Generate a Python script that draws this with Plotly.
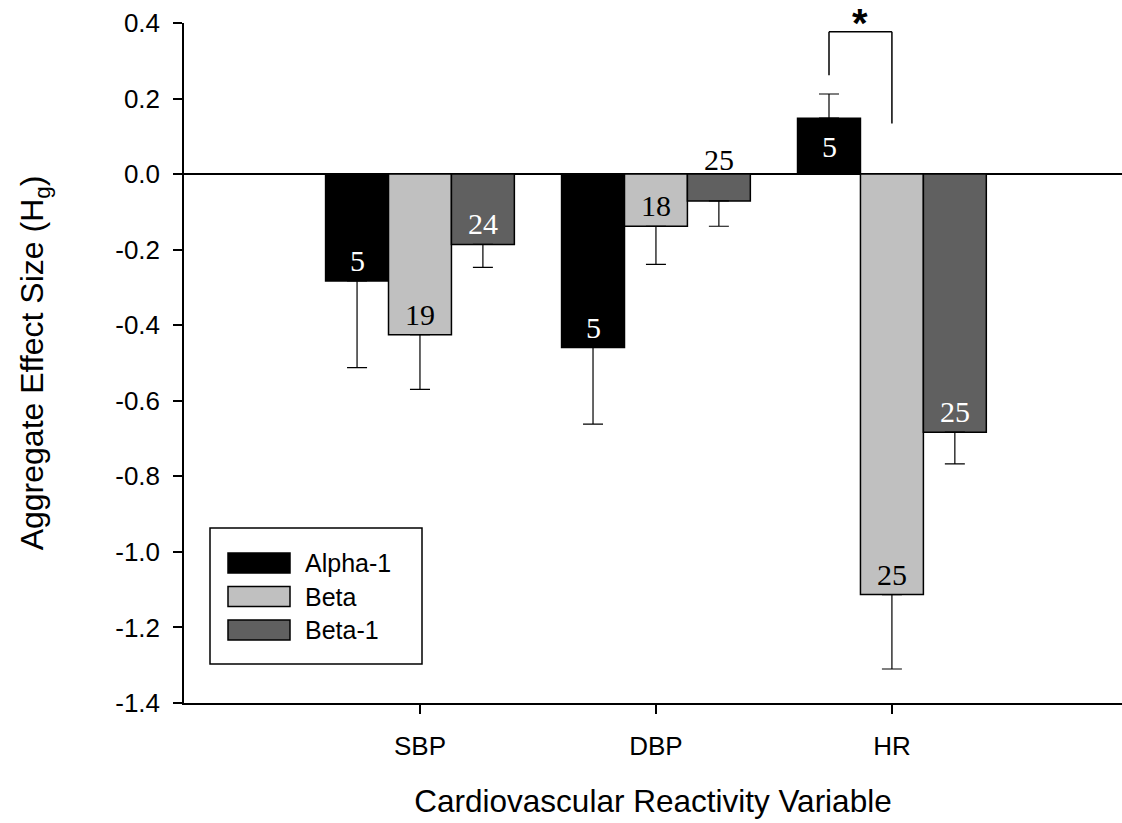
import plotly.graph_objects as go

# ---------------- data ----------------
categories = ["SBP", "DBP", "HR"]
series_names = ["Alpha-1", "Beta", "Beta-1"]
alpha1_vals = [-0.283, -0.459, 0.148]
beta_vals = [-0.425, -0.138, -1.113]
beta1_vals = [-0.186, -0.071, -0.683]
alpha1_err = [0.229, 0.203, 0.064]
beta_err = [0.145, 0.101, 0.197]
beta1_err = [0.061, 0.067, 0.084]
alpha1_n = [5, 5, 5]
beta_n = [19, 18, 25]
beta1_n = [24, 25, 25]
y_tickvals = [0.4, 0.2, 0.0, -0.2, -0.4, -0.6, -0.8, -1.0, -1.2, -1.4]
y_ticktext = ["0.4", "0.2", "0.0", "-0.2", "-0.4", "-0.6", "-0.8", "-1.0", "-1.2", "-1.4"]
x_title = "Cardiovascular Reactivity Variable"
y_title = "Aggregate Effect Size (H<sub>g</sub>)"
sig_label = "*"

# ---------------- style ----------------
fills = ["#000000", "#c0c0c0", "#606060"]
label_colors = ["white", "black", "white"]
SANS = "Arial, Liberation Sans, sans-serif"
SERIF = "Times New Roman, Liberation Serif, serif"

W, H = 1122, 823
# plot area in page pixels
PL, PR, PT, PB = 184, 1122, 23, 703
BARGAP = 0.2
bar_w = (1 - BARGAP) / 3


def px(x):
    return (x - PL) / (PR - PL)


def py(y):
    return (PB - y) / (PB - PT)


vals = [alpha1_vals, beta_vals, beta1_vals]
errs = [alpha1_err, beta_err, beta1_err]
ns = [alpha1_n, beta_n, beta1_n]

fig = go.Figure()
for i in range(3):
    plus = [e if v >= 0 else 0 for v, e in zip(vals[i], errs[i])]
    minus = [0 if v >= 0 else e for v, e in zip(vals[i], errs[i])]
    fig.add_trace(go.Bar(
        x=categories, y=vals[i], name=series_names[i],
        marker=dict(color=fills[i], line=dict(color="black", width=1.5)),
        error_y=dict(type="data", symmetric=False, array=plus, arrayminus=minus,
                     color="black", thickness=1.2, width=10),
        showlegend=False,
    ))

annotations = []
offsets = [-bar_w, 0, bar_w]
for i in range(3):
    for j, cat in enumerate(categories):
        v = vals[i][j]
        xpos = j + offsets[i]
        if v >= 0:
            annotations.append(dict(x=xpos, y=v / 2, xref="x", yref="y", text=str(ns[i][j]),
                                    showarrow=False, yanchor="middle",
                                    font=dict(family=SERIF, size=30, color=label_colors[i])))
        elif abs(v) < 0.1:
            annotations.append(dict(x=xpos, y=0, xref="x", yref="y", text=str(ns[i][j]),
                                    showarrow=False, yanchor="bottom", yshift=-4,
                                    font=dict(family=SERIF, size=30, color="black")))
        else:
            annotations.append(dict(x=xpos, y=v, xref="x", yref="y", text=str(ns[i][j]),
                                    showarrow=False, yanchor="bottom", yshift=2,
                                    font=dict(family=SERIF, size=30, color=label_colors[i])))

# significance bracket between Alpha-1 and Beta at HR
hr = categories.index("HR")
xa = hr + offsets[0]
xb = hr + offsets[1]
top_y = 0.377
left_bottom = alpha1_vals[hr] + alpha1_err[hr] + 0.05
right_bottom = 0.134
shapes = [
    dict(type="line", xref="x", yref="y", x0=xa, x1=xa, y0=left_bottom, y1=top_y,
         line=dict(color="black", width=1.5)),
    dict(type="line", xref="x", yref="y", x0=xa, x1=xb, y0=top_y, y1=top_y,
         line=dict(color="black", width=1.5)),
    dict(type="line", xref="x", yref="y", x0=xb, x1=xb, y0=right_bottom, y1=top_y,
         line=dict(color="black", width=1.5)),
]
annotations.append(dict(x=(xa + xb) / 2, y=top_y, xref="x", yref="y", text="<b>" + sig_label + "</b>",
                        showarrow=False, yanchor="bottom", yshift=-15,
                        font=dict(family=SANS, size=40, color="black")))

# manual legend
shapes.append(dict(type="rect", xref="paper", yref="paper", x0=px(210), x1=px(422),
                   y0=py(664), y1=py(528), line=dict(color="black", width=1.5),
                   fillcolor="white", layer="above"))
row_y = [563, 596.5, 630]
for i in range(3):
    shapes.append(dict(type="rect", xref="paper", yref="paper", x0=px(228), x1=px(290),
                       y0=py(row_y[i] + 10), y1=py(row_y[i] - 10),
                       line=dict(color="black", width=1.5), fillcolor=fills[i], layer="above"))
    annotations.append(dict(x=px(303), y=py(row_y[i]), xref="paper", yref="paper",
                            text=series_names[i], showarrow=False, xanchor="left", yanchor="middle",
                            font=dict(family=SANS, size=25, color="black")))

fig.update_layout(
    width=W, height=H,
    margin=dict(l=PL, r=W - PR, t=PT, b=H - PB, pad=0),
    paper_bgcolor="white", plot_bgcolor="white",
    barmode="group", bargap=BARGAP, bargroupgap=0,
    shapes=shapes, annotations=annotations,
    font=dict(family=SANS, color="black"),
)
fig.update_xaxes(
    type="category", range=[-1, 2.975],
    showline=True, linecolor="black", linewidth=1.5, mirror=False,
    ticks="outside", ticklen=9, tickwidth=1.5, tickcolor="black",
    tickfont=dict(family=SANS, size=26, color="black"), ticklabelstandoff=10,
    showgrid=False, zeroline=False,
    title=dict(text=x_title, font=dict(family=SANS, size=31.5, color="black"), standoff=30),
)
fig.update_yaxes(
    range=[-1.4, 0.4], tickvals=y_tickvals, ticktext=y_ticktext,
    showline=True, linecolor="black", linewidth=1.5,
    ticks="outside", ticklen=9, tickwidth=1.5, tickcolor="black",
    tickfont=dict(family=SANS, size=26, color="black"), ticklabelstandoff=8,
    showgrid=False, zeroline=True, zerolinecolor="black", zerolinewidth=1.5,
    title=dict(text=y_title, font=dict(family=SANS, size=32, color="black"), standoff=62),
)

fig.write_html("out.html", config={"displayModeBar": False},
               post_script="document.body.style.margin='0px';")
